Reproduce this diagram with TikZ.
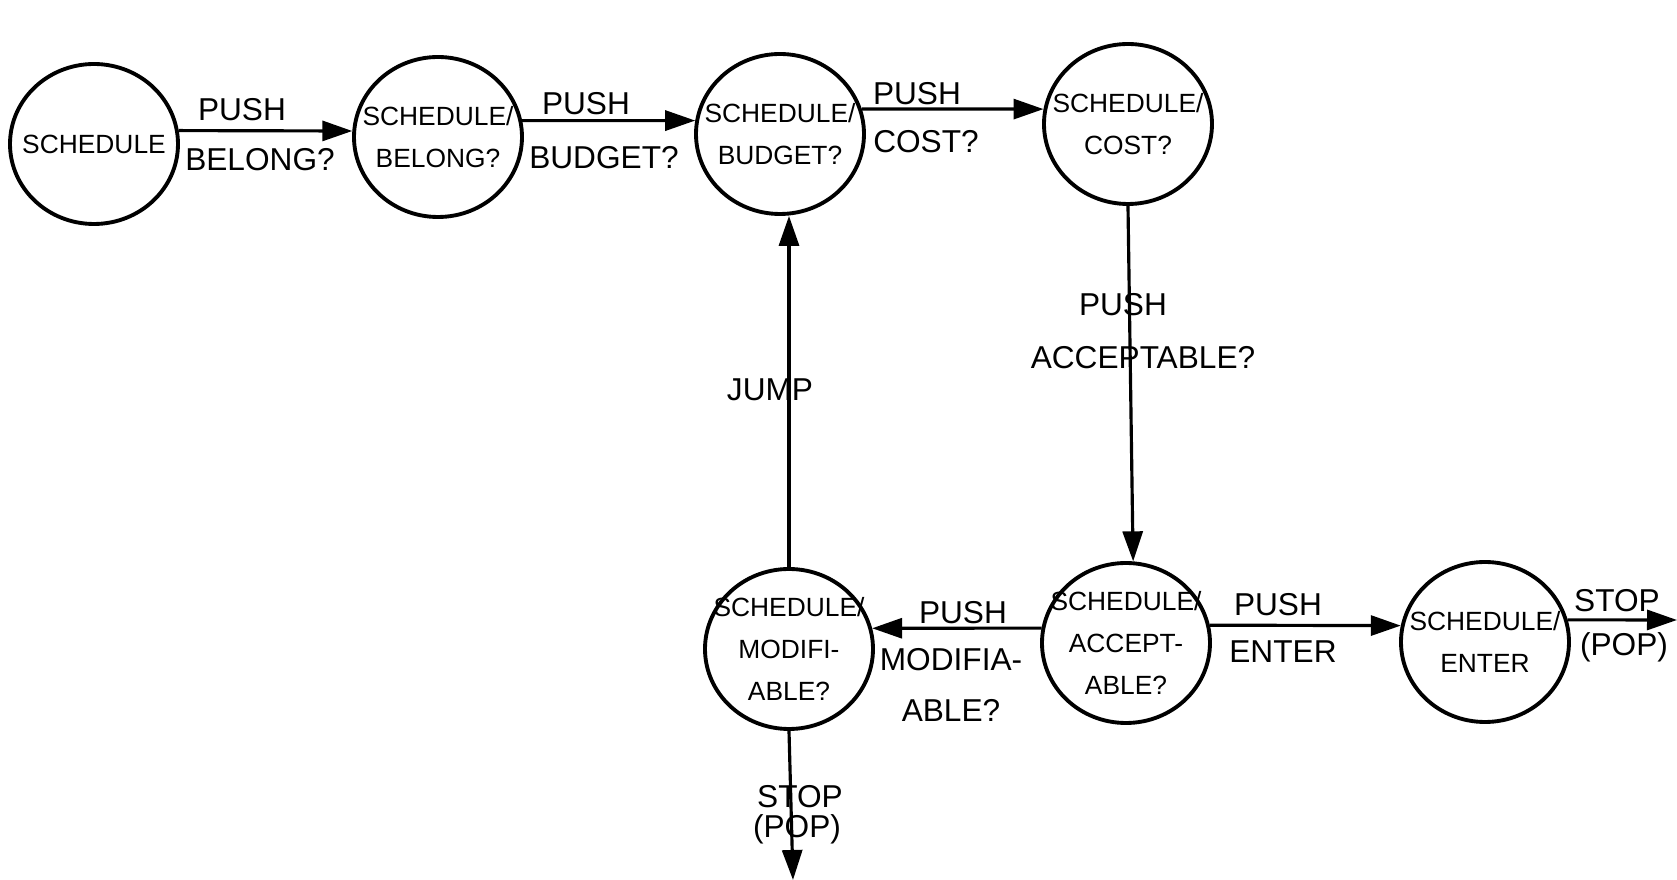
\documentclass[tikz,border=0pt]{standalone}
\usepackage{fontspec}
\setmainfont{Liberation Sans}
\usetikzlibrary{
  shapes.geometric,
  positioning,
  calc,
  arrows.meta}
\tikzset{
  %% statenode : a state of the network
  %% (negative inner sep, so that the minimum size sets the ellipse)
  statenode/.style={
    ellipse,
    draw=black,
    line width=1.1pt,
    minimum width=16.8mm,
    minimum height=16mm,
    inner xsep=-2.5mm,
    inner ysep=-2mm,
    align=center,
    font=\fontsize{7.5}{12}\selectfont
  },
  %% trans : a transition from one state to the next
  trans/.style={
    line width=0.9pt,
    -{Triangle[length=3mm,width=2mm]}
  },
  %% translabel : the text of a transition
  translabel/.style={
    inner sep=0pt,
    align=center,
    font=\fontsize{9}{11}\selectfont
  }
}

\begin{document}
\begin{tikzpicture}
  [x=0.1mm,
  y=-0.1mm]

  \useasboundingbox (0,0) rectangle (1677,880);

  %% States, top row
  \node (sched) [statenode] at (94,144) {SCHEDULE};
  \node (belong) [statenode] at (438,137) {SCHEDULE/\\BELONG?};
  \node (budget) [statenode] at (780,134) {SCHEDULE/\\BUDGET?};
  \node (cost) [statenode] at (1128,124) {SCHEDULE/\\COST?};

  %% States, bottom row
  \node (modif) [statenode] at (789,649) {SCHEDULE/\\MODIFI-\\ABLE?};
  \node (accept) [statenode] at (1126,643) {SCHEDULE/\\ACCEPT-\\ABLE?};
  \node (enter) [statenode] at (1485,642) {SCHEDULE/\\ENTER};

  %% Free ends
  \coordinate (popright) at (1677,620);
  \coordinate (popdown) at (793,880);

  %% Connections
  \draw [trans] (sched.9) -- (belong.176);
  \draw [trans] (belong.11) -- (budget.171);
  \draw [trans] (budget.17) -- (cost.170);
  \draw [trans] (cost.south) -- (accept.85);
  \draw [trans] (accept.170) -- (modif.14);
  \draw [trans] (modif.north) -- (modif.north |- budget.south);
  \draw [trans] (accept.12) -- (enter.169);
  \draw [trans] (enter.15) -- (popright);
  \draw [trans] (modif.south) -- (popdown);

  %% Labels
  \node (push1) [translabel] at (242,110) {PUSH};
  \node (lbelong) [translabel] at (260,160) {BELONG?};
  \node (push2) [translabel] at (586,104) {PUSH};
  \node (lbudget) [translabel] at (604,158) {BUDGET?};
  \node (push3) [translabel] at (917,94) {PUSH};
  \node (lcost) [translabel] at (926,142) {COST?};
  \node (push4) [translabel] at (1123,305) {PUSH};
  \node (laccept) [translabel] at (1143,358) {ACCEPTABLE?};
  \node (jump) [translabel] at (770,390) {JUMP};
  \node (push5) [translabel] at (963,613) {PUSH};
  \node (lmodif) [translabel] at (951,685) {MODIFIA-\\[1.2mm]ABLE?};
  \node (push6) [translabel] at (1278,605) {PUSH};
  \node (lenter) [translabel] at (1283,652) {ENTER};
  \node (stop1) [translabel] at (1617,601) {STOP};
  \node (pop1) [translabel] at (1624,647) {(POP)};
  \node (stop2) [translabel] at (800,797) {STOP};
  \node (pop2) [translabel] at (797,829) {(POP)};

\end{tikzpicture}
\end{document}
